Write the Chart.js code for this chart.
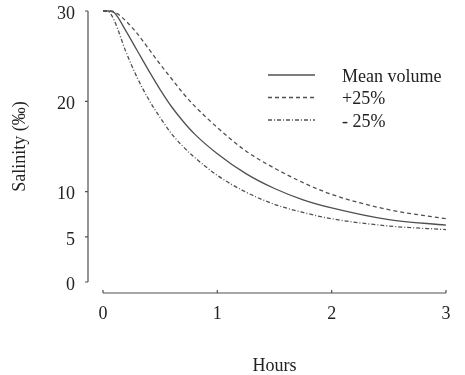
<!DOCTYPE html>
<html>
<head>
<meta charset="utf-8">
<title>Salinity vs hours</title>
<script src="https://cdn.jsdelivr.net/npm/chart.js@4.4.1/dist/chart.umd.min.js"></script>
<style>
  html, body { margin: 0; padding: 0; background: #ffffff; }
  #wrap { width: 465px; height: 375px; }
</style>
</head>
<body>
<div id="wrap"><canvas id="chart" width="465" height="375"></canvas></div>
<script>
// Data
const hours      = [0, 0.05, 0.1, 0.2, 0.3, 0.4, 0.5, 0.6, 0.7, 0.8, 1.0, 1.25, 1.5, 1.75, 2.0, 2.5, 3.0];
const meanVolume = [30, 30, 29.8, 27.8, 25.6, 23.4, 21.3, 19.4, 17.8, 16.4, 14.2, 12.0, 10.35, 9.1, 8.2, 6.9, 6.3];
const plus25     = [30, 30, 29.9, 28.9, 27.5, 25.8, 24.1, 22.5, 20.9, 19.5, 17.1, 14.5, 12.6, 11.0, 9.7, 8.0, 7.0];
const minus25    = [30, 29.9, 28.9, 25.5, 22.6, 20.2, 18.2, 16.4, 15.0, 13.8, 11.8, 9.95, 8.6, 7.7, 7.0, 6.2, 5.8];
const seriesLabels = ['Mean volume', '+25%', '- 25%'];
const xTicks = [0, 1, 2, 3];
const yTicks = [0, 5, 10, 20, 30];

const ink = '#505050';
const textInk = '#222222';
const serif = "'Liberation Serif', 'DejaVu Serif', serif";

// line styles: solid, dashed, dash-dot
const dashes = [[], [4, 3], [4, 2, 1, 2]];

const toPoints = (vals) => vals.map((v, i) => ({ x: hours[i], y: v }));

// Detached axes (drawn off the plot area) plus a hand placed key
const axesAndKey = {
    id: 'axesAndKey',
    afterDraw(chart) {
        const { ctx, chartArea, scales: { x, y } } = chart;
        const axisX = chartArea.left - 15;
        const axisY = chartArea.bottom + 11;

        ctx.save();
        ctx.strokeStyle = ink;
        ctx.lineWidth = 1.2;
        ctx.setLineDash([]);

        // y axis
        ctx.beginPath();
        ctx.moveTo(axisX, y.getPixelForValue(yTicks[yTicks.length - 1]));
        ctx.lineTo(axisX, y.getPixelForValue(yTicks[0]));
        yTicks.forEach(v => {
            const py = y.getPixelForValue(v);
            ctx.moveTo(axisX - 3, py);
            ctx.lineTo(axisX, py);
        });
        // x axis
        ctx.moveTo(x.getPixelForValue(xTicks[0]), axisY);
        ctx.lineTo(x.getPixelForValue(xTicks[xTicks.length - 1]), axisY);
        xTicks.forEach(v => {
            const px = x.getPixelForValue(v);
            ctx.moveTo(px, axisY);
            ctx.lineTo(px, axisY - 3);
        });
        ctx.stroke();

        // key
        const x0 = chartArea.left + 165;
        const x1 = chartArea.left + 212;
        const tx = chartArea.left + 239;
        ctx.font = '18px ' + serif;
        ctx.fillStyle = textInk;
        ctx.textBaseline = 'middle';
        ctx.textAlign = 'left';
        chart.data.datasets.forEach((ds, i) => {
            const ly = chartArea.top + 64 + i * 22.5;
            ctx.beginPath();
            ctx.strokeStyle = ds.borderColor;
            ctx.lineWidth = ds.borderWidth;
            ctx.setLineDash(ds.borderDash);
            ctx.moveTo(x0, ly);
            ctx.lineTo(x1, ly);
            ctx.stroke();
            ctx.fillText(ds.label, tx, ly + 2);
        });
        ctx.restore();
    }
};

const ctx = document.getElementById('chart').getContext('2d');
new Chart(ctx, {
    type: 'line',
    data: {
        datasets: [meanVolume, plus25, minus25].map((vals, i) => ({
            label: seriesLabels[i],
            data: toPoints(vals),
            borderColor: ink,
            borderWidth: 1.3,
            borderDash: dashes[i],
            pointRadius: 0,
            fill: false,
            cubicInterpolationMode: 'monotone',
            clip: false
        }))
    },
    options: {
        responsive: false,
        animation: false,
        devicePixelRatio: 1,
        layout: { padding: { top: 11, right: 19, left: 0, bottom: 0 } },
        plugins: {
            legend: { display: false },
            tooltip: { enabled: false }
        },
        scales: {
            x: {
                type: 'linear',
                min: 0,
                max: 3,
                grid: { display: false, drawTicks: false },
                border: { display: false },
                afterBuildTicks: (scale) => { scale.ticks = xTicks.map(v => ({ value: v })); },
                afterFit: (scale) => {
                    scale.height = 93;
                    scale.paddingLeft = 0;
                    scale.paddingRight = 0;
                },
                ticks: {
                    padding: 21,
                    maxRotation: 0,
                    color: textInk,
                    font: { family: serif, size: 18 }
                },
                title: {
                    display: true,
                    text: 'Hours',
                    color: textInk,
                    padding: { top: 0, bottom: -2 },
                    font: { family: serif, size: 18 }
                }
            },
            y: {
                min: 0,
                max: 30,
                grid: { display: false, drawTicks: false },
                border: { display: false },
                afterBuildTicks: (scale) => { scale.ticks = yTicks.map(v => ({ value: v })); },
                afterFit: (scale) => {
                    scale.width = 103;
                    scale.paddingTop = 0;
                    scale.paddingBottom = 0;
                },
                ticks: {
                    padding: 28,
                    labelOffset: 3,
                    color: textInk,
                    font: { family: serif, size: 18 }
                },
                title: {
                    display: true,
                    text: 'Salinity (‰)',
                    color: textInk,
                    padding: { top: 9, bottom: 0 },
                    font: { family: serif, size: 18 }
                }
            }
        }
    },
    plugins: [axesAndKey]
});
</script>
</body>
</html>
